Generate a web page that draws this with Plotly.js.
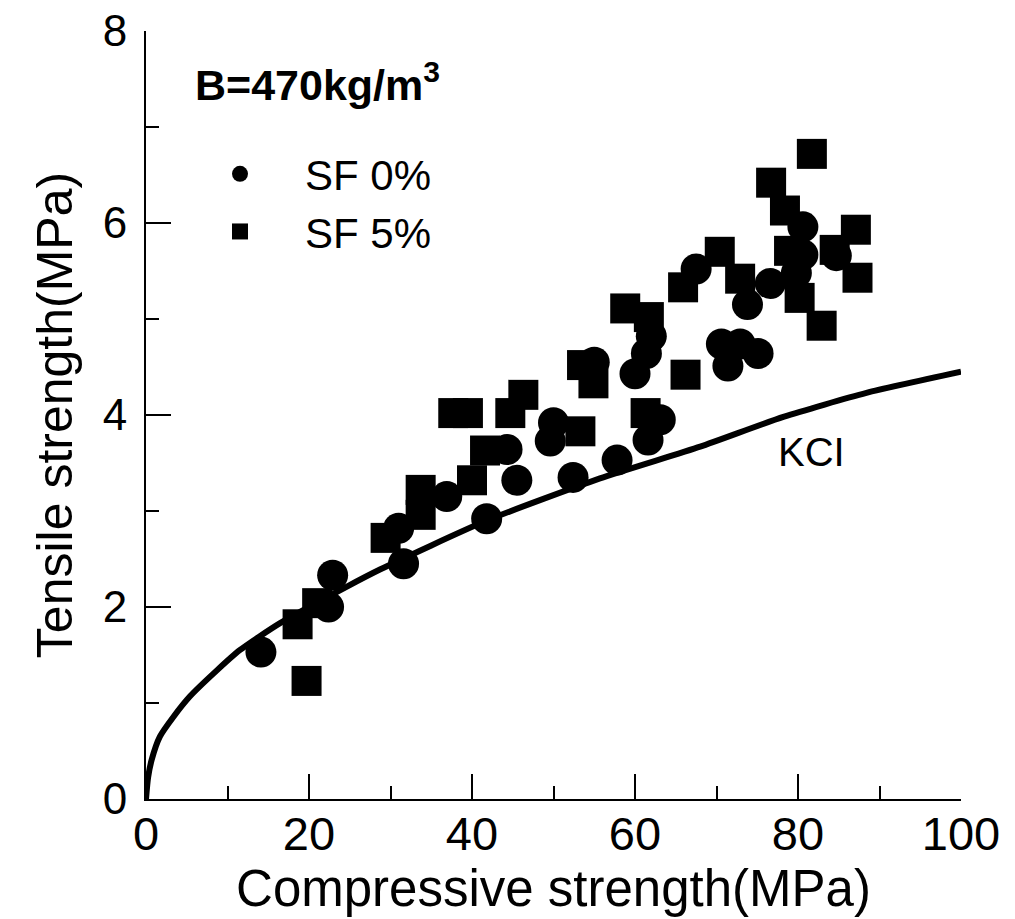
<!DOCTYPE html>
<html>
<head>
<meta charset="utf-8">
<script src="https://cdn.plot.ly/plotly-3.0.1.min.js"></script>
<style>html,body{margin:0;padding:0;background:#fff;}#chart{width:1015px;height:919px;}</style>
</head>
<body>
<div id="chart"></div>
<script>
// SF 0% (circles)
const sf0X = [14.1, 22.4, 22.9, 31.0, 31.6, 36.9, 41.8, 44.3, 45.5, 50.0, 49.6, 52.4, 55.0, 57.8, 60.0, 61.4, 62.0, 63.1, 61.6, 67.5, 70.6, 72.9, 71.4, 75.1, 73.8, 76.6, 79.8, 80.6, 80.6, 84.7];
const sf0Y = [1.53, 2.00, 2.33, 2.82, 2.45, 3.15, 2.92, 3.64, 3.32, 3.92, 3.73, 3.35, 4.55, 3.53, 4.43, 4.64, 4.82, 3.95, 3.74, 5.52, 4.74, 4.74, 4.51, 4.64, 5.15, 5.37, 5.48, 5.96, 5.67, 5.66];
// SF 5% (squares)
const sf5X = [18.6, 19.7, 21.0, 29.4, 33.7, 33.7, 37.7, 39.5, 40.0, 41.6, 44.7, 46.3, 53.3, 53.5, 54.9, 58.8, 61.7, 61.3, 66.2, 65.9, 70.4, 72.9, 76.7, 78.4, 78.9, 81.7, 80.2, 82.9, 84.5, 87.1, 87.3];
const sf5Y = [1.82, 1.23, 2.04, 2.72, 3.22, 2.96, 4.02, 4.02, 3.32, 3.63, 4.02, 4.21, 3.83, 4.52, 4.33, 5.11, 5.02, 4.02, 4.42, 5.33, 5.70, 5.42, 6.42, 6.13, 5.71, 6.72, 5.22, 4.93, 5.72, 5.93, 5.43];
// KCI curve
const kciX = [0, 0.25, 0.7, 1.7, 3.4, 5.4, 8.7, 11.5, 16.4, 24.6, 28.7, 41.8, 55.7, 68.0, 78.2, 88.4, 100];
const kciY = [0, 0.22, 0.41, 0.65, 0.86, 1.07, 1.34, 1.55, 1.83, 2.21, 2.39, 2.90, 3.34, 3.67, 3.98, 4.23, 4.45];
// Axis ticks
const xTicks = [0, 20, 40, 60, 80, 100];
const yTicks = [0, 2, 4, 6, 8];
const seriesNames = ['SF 0%', 'SF 5%', 'KCI'];
const noteText = 'B=470kg/m<sup>3</sup>';

const FONT = 'Liberation Sans, Arial, sans-serif';

const traces = [
  {x: kciX, y: kciY, mode: 'lines', name: seriesNames[2], showlegend: false,
   line: {color: '#000', width: 6, shape: 'spline', smoothing: 0.6}, hoverinfo: 'skip'},
  {x: sf0X, y: sf0Y, mode: 'markers', name: seriesNames[0],
   marker: {symbol: 'circle', size: 31, color: '#000', line: {width: 0}}},
  {x: sf5X, y: sf5Y, mode: 'markers', name: seriesNames[1],
   marker: {symbol: 'square', size: 30, color: '#000', line: {width: 0}}}
];

const axisCommon = {
  showline: true, linecolor: '#000', linewidth: 2,
  showgrid: false, zeroline: false,
  ticks: 'inside', ticklen: 25, tickwidth: 2, tickcolor: '#000',
  automargin: false
};

const layout = {
  width: 1015, height: 919,
  margin: {l: 146, r: 54, t: 31, b: 120},
  paper_bgcolor: '#fff', plot_bgcolor: '#fff',
  font: {family: FONT, color: '#000'},
  showlegend: true,
  legend: {
    x: (175 - 146) / 815, y: 0.858, xanchor: 'left', yanchor: 'top',
    bgcolor: 'rgba(0,0,0,0)', borderwidth: 0,
    font: {family: FONT, size: 42, color: '#000'},
    itemwidth: 120, traceorder: 'normal'
  },
  xaxis: Object.assign({}, axisCommon, {
    range: [0, 100], tickvals: xTicks, ticktext: xTicks.map(String),
    minor: {dtick: 10, tick0: 0, ticks: 'inside', ticklen: 13, tickwidth: 2, tickcolor: '#000', showgrid: false},
    tickfont: {family: FONT, size: 47, color: '#000'},
    ticklabelstandoff: -7,
    title: {text: 'Compressive strength(MPa)', font: {family: FONT, size: 51, color: '#000'}, standoff: 9}
  }),
  yaxis: Object.assign({}, axisCommon, {
    range: [0, 8], tickvals: yTicks, ticktext: yTicks.map(String),
    minor: {dtick: 1, tick0: 0, ticks: 'inside', ticklen: 13, tickwidth: 2, tickcolor: '#000', showgrid: false},
    tickfont: {family: FONT, size: 44, color: '#000'},
    ticklabelstandoff: 8,
    title: {text: 'Tensile strength(MPa)', font: {family: FONT, size: 50, color: '#000'}, standoff: 14}
  }),
  annotations: [
    {x: 5.8, y: 7.47, xref: 'x', yref: 'y', xanchor: 'left', yanchor: 'middle', showarrow: false,
     text: '<b>' + noteText + '</b>', font: {family: FONT, size: 43, color: '#000'}},
    {x: 81.6, y: 3.61, xref: 'x', yref: 'y', xanchor: 'center', yanchor: 'middle', showarrow: false,
     text: seriesNames[2], font: {family: FONT, size: 40, color: '#000'}}
  ]
};

Plotly.newPlot('chart', traces, layout, {staticPlot: true, displayModeBar: false});
</script>
</body>
</html>
